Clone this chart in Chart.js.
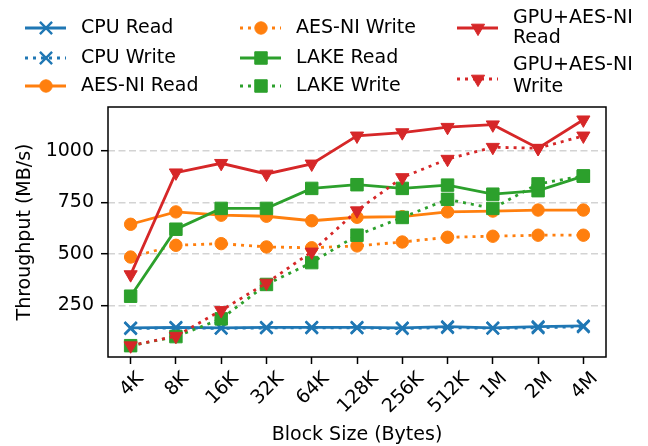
<!DOCTYPE html>
<html>
<head>
<meta charset="utf-8">
<script src="https://cdn.jsdelivr.net/npm/chart.js@4.4.0/dist/chart.umd.min.js"></script>
<style>
  html, body { margin: 0; padding: 0; background: #fff; }
</style>
</head>
<body>
<canvas id="thrChart" width="648" height="446"></canvas>
<script>
// block sizes on the x axis
const blockSizes = ['4K', '8K', '16K', '32K', '64K', '128K', '256K', '512K', '1M', '2M', '4M'];
const yTicks = [250, 500, 750, 1000];

// throughput in MB/s
const cpuRead   = [141, 144, 141, 144, 144, 144, 141, 147, 141, 147, 151];
const cpuWrite  = [138, 141, 139, 141, 142, 141, 138, 143, 139, 142, 147];
const aesRead   = [644, 704, 688, 683, 661, 678, 681, 704, 708, 713, 713];
const aesWrite  = [485, 542, 550, 534, 530, 539, 558, 581, 586, 591, 591];
const lakeRead  = [295, 620, 721, 721, 818, 836, 818, 834, 790, 807, 878];
const lakeWrite = [55, 99, 185, 352, 458, 591, 677, 765, 721, 840, 878];
const gpuRead   = [400, 894, 940, 888, 937, 1073, 1089, 1115, 1127, 1013, 1151];
const gpuWrite  = [55, 101, 226, 359, 510, 710, 871, 960, 1018, 1013, 1073];

const FONT_FAMILY = '"DejaVu Sans", sans-serif';
const FS = 19;
Chart.defaults.font.family = FONT_FAMILY;
Chart.defaults.color = '#000';

const BLUE = '#1f77b4', ORANGE = '#ff7f0e', GREEN = '#2ca02c', RED = '#d62728';
const DOTS = [3, 5];

const markers = {
  x:   { pointStyle: 'crossRot', radius: 8.6, rotation: 0, borderWidth: 2.4 },
  o:   { pointStyle: 'circle', radius: 6.2, rotation: 0, borderWidth: 1 },
  s:   { pointStyle: 'rect', radius: 8.8, rotation: 0, borderWidth: 1 },
  v:   { pointStyle: 'triangle', radius: 7.6, rotation: 180, borderWidth: 1 }
};

function series(label, data, color, dotted, mk, idx) {
  const m = markers[mk];
  return {
    label: label, data: data,
    borderColor: color, backgroundColor: color,
    borderWidth: 2.8, borderDash: dotted ? DOTS : [], borderCapStyle: 'butt',
    pointStyle: m.pointStyle, pointRadius: m.radius, pointRotation: m.rotation,
    pointBorderWidth: m.borderWidth, pointBorderColor: color, pointBackgroundColor: color,
    tension: 0, order: -idx,
    dotted: dotted, mk: mk
  };
}

const datasets = [
  series('CPU Read', cpuRead, BLUE, false, 'x', 0),
  series('CPU Write', cpuWrite, BLUE, true, 'x', 1),
  series('AES-NI Read', aesRead, ORANGE, false, 'o', 2),
  series('AES-NI Write', aesWrite, ORANGE, true, 'o', 3),
  series('LAKE Read', lakeRead, GREEN, false, 's', 4),
  series('LAKE Write', lakeWrite, GREEN, true, 's', 5),
  series('GPU+AES-NI Read', gpuRead, RED, false, 'v', 6),
  series('GPU+AES-NI Write', gpuWrite, RED, true, 'v', 7)
];

// legend laid out in columns like the matplotlib one
const legendSpots = [
  { x: 25, y: 28, lines: ['CPU Read'] },
  { x: 25, y: 58, lines: ['CPU Write'] },
  { x: 25, y: 86, lines: ['AES-NI Read'] },
  { x: 240, y: 28, lines: ['AES-NI Write'] },
  { x: 240, y: 58, lines: ['LAKE Read'] },
  { x: 240, y: 86, lines: ['LAKE Write'] },
  { x: 457, y: 28, lines: ['GPU+AES-NI', 'Read'], ty: [18, 38] },
  { x: 457, y: 79, lines: ['GPU+AES-NI', 'Write'], ty: [65, 87] }
];

const legendPlugin = {
  id: 'colLegend',
  afterDraw(chart) {
    const ctx = chart.ctx;
    ctx.save();
    ctx.font = FS + 'px ' + FONT_FAMILY;
    ctx.textBaseline = 'middle';
    ctx.textAlign = 'left';
    datasets.forEach((ds, i) => {
      const sp = legendSpots[i];
      ctx.strokeStyle = ds.borderColor;
      ctx.lineWidth = 2.8;
      ctx.setLineDash(ds.dotted ? DOTS : []);
      ctx.beginPath();
      ctx.moveTo(sp.x, sp.y);
      ctx.lineTo(sp.x + 41, sp.y);
      ctx.stroke();
      ctx.setLineDash([]);
      const m = markers[ds.mk];
      ctx.fillStyle = ds.borderColor;
      ctx.lineWidth = m.borderWidth;
      Chart.helpers.drawPoint(ctx, m, sp.x + 21, sp.y);
      ctx.fillStyle = '#000';
      sp.lines.forEach((t, k) => {
        ctx.fillText(t, sp.x + 56, sp.ty ? sp.ty[k] : sp.y);
      });
    });
    ctx.restore();
  }
};

// full box around the axes
const framePlugin = {
  id: 'frame',
  afterDatasetsDraw(chart) {
    const a = chart.chartArea, ctx = chart.ctx;
    ctx.save();
    ctx.strokeStyle = '#000';
    ctx.lineWidth = 1.5;
    ctx.strokeRect(a.left, a.top, a.right - a.left, a.bottom - a.top);
    ctx.restore();
  }
};

// rotated x labels, centred under each tick
const xLabelPlugin = {
  id: 'xLabels',
  afterDraw(chart) {
    const ctx = chart.ctx, xs = chart.scales.x, top = chart.chartArea.bottom;
    ctx.save();
    ctx.font = FS + 'px ' + FONT_FAMILY;
    ctx.fillStyle = '#000';
    ctx.textAlign = 'center';
    ctx.textBaseline = 'alphabetic';
    blockSizes.forEach((lab, i) => {
      const px = xs.getPixelForValue(i);
      const w = ctx.measureText(lab).width;
      const cy = top + 12.5 + (w + 13.5) / (2 * Math.SQRT2);
      ctx.save();
      ctx.translate(px, cy);
      ctx.rotate(-Math.PI / 4);
      ctx.fillText(lab, 0, 6.8);
      ctx.restore();
    });
    ctx.restore();
  }
};

new Chart(document.getElementById('thrChart'), {
  type: 'line',
  data: { labels: blockSizes, datasets: datasets },
  options: {
    responsive: false, animation: false, devicePixelRatio: 1, events: [],
    layout: { padding: { top: 107, right: 42, bottom: 0, left: 0 } },
    plugins: { legend: { display: false }, tooltip: { enabled: false } },
    scales: {
      x: {
        type: 'category', offset: true,
        grid: { offset: false, drawOnChartArea: false, drawTicks: true, tickLength: 7, tickColor: '#000', tickWidth: 1.5 },
        border: { display: false },
        ticks: { display: false, autoSkip: false },
        title: { display: true, text: 'Block Size (Bytes)', font: { size: FS }, color: '#000', padding: { top: 0, bottom: 0 } },
        afterFit: s => { s.height = 89; }
      },
      y: {
        min: 0, max: 1213,
        afterBuildTicks: axis => { axis.ticks = yTicks.map(v => ({ value: v })); },
        grid: { color: '#d3d3d3', lineWidth: 1.4, drawTicks: true, tickLength: 7, tickColor: '#000', tickWidth: 1.5, tickBorderDash: [] },
        border: { display: false, dash: [7, 3.5] },
        ticks: { font: { size: FS }, color: '#000', padding: 7, callback: v => String(v) },
        title: { display: true, text: 'Throughput (MB/s)', font: { size: FS }, color: '#000', padding: { top: 14, bottom: 0 } },
        afterFit: s => { s.width = 108; }
      }
    }
  },
  plugins: [framePlugin, xLabelPlugin, legendPlugin]
});
</script>
</body>
</html>
